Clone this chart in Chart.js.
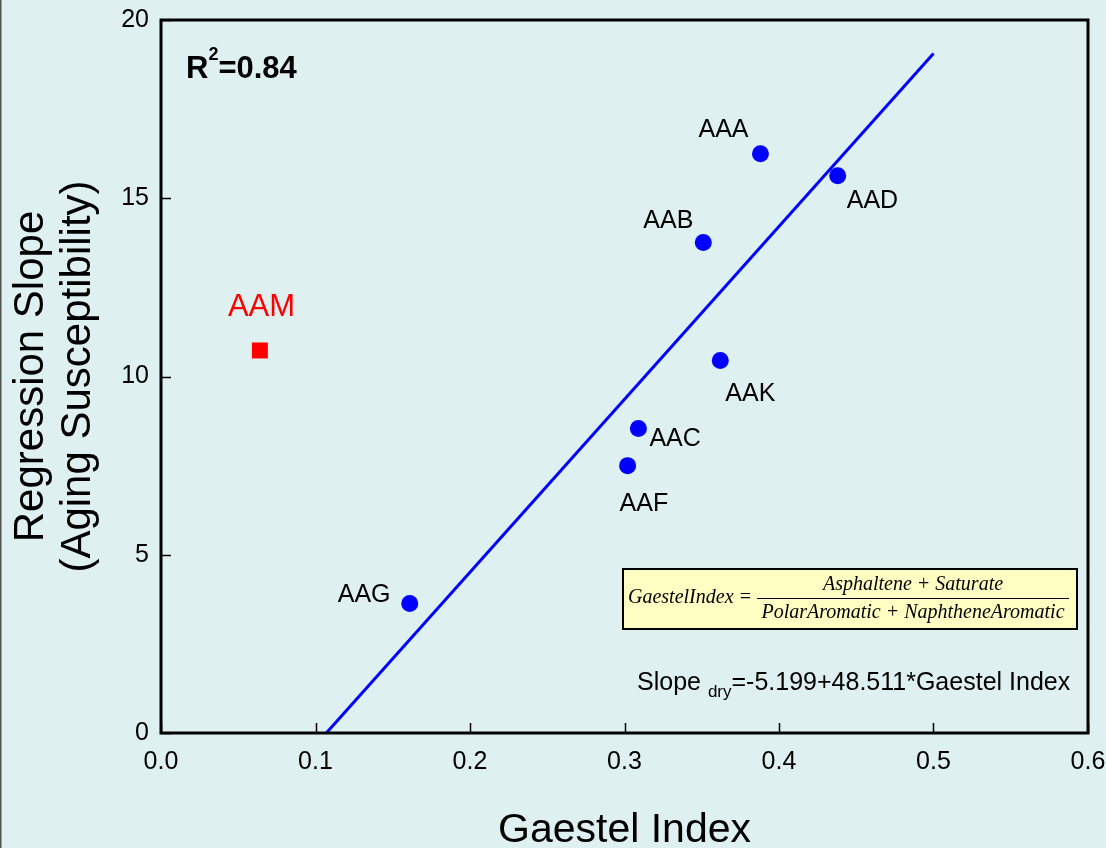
<!DOCTYPE html>
<html>
<head>
  <title>Gaestel Index vs Regression Slope</title>
  <script src="https://cdn.jsdelivr.net/npm/chart.js"></script>
  <style>
    body { margin: 0; background: #dff0f0; }
  </style>
</head>
<body>
  <canvas id="gaestelChart" width="1106" height="848"></canvas>

  <script>
    // asphalts used in the fit
    const asphaltNames = ['AAA', 'AAB', 'AAC', 'AAD', 'AAF', 'AAG', 'AAK'];
    const gaestelIndex = [0.388, 0.351, 0.309, 0.438, 0.302, 0.161, 0.362];
    const regressionSlope = [16.25, 13.76, 8.54, 15.63, 7.50, 3.63, 10.45];

    // outlier, left out of the fit
    const outlierNames = ['AAM'];
    const outlierIndex = [0.064];
    const outlierSlope = [10.73];

    // Slope_dry = -5.199 + 48.511 * Gaestel Index
    const fitX = [0.107, 0.5];
    const fitY = [0, 19.06];

    const FONT = '"Liberation Sans", Arial, sans-serif';
    const SERIF = '"Liberation Serif", "Times New Roman", serif';

    // label placement relative to the marker (left edge, baseline)
    const labelOffsets = {
      AAA: [-62, -17], AAB: [-60, -14], AAC: [11, 17], AAD: [9, 32],
      AAF: [-8, 45], AAG: [-72, -2], AAK: [5, 41], AAM: [-32, -34]
    };

    const toPoints = (xs, ys) => xs.map((x, i) => ({ x: x, y: ys[i] }));

    const decorPlugin = {
      id: 'decor',
      beforeDraw(chart) {
        const c = chart.ctx;
        c.save();
        c.fillStyle = '#dff0f0';
        c.fillRect(0, 0, chart.width, chart.height);
        c.fillStyle = '#555';
        c.fillRect(0, 0, 1.5, chart.height);
        c.restore();
      },
      afterDraw(chart) {
        const c = chart.ctx;
        const a = chart.chartArea;
        const xs = chart.scales.x, ys = chart.scales.y;
        c.save();

        // frame + inward ticks
        c.strokeStyle = '#000';
        c.lineWidth = 3;
        c.strokeRect(a.left, a.top, a.right - a.left, a.bottom - a.top);
        c.lineWidth = 1.5;
        c.beginPath();
        xs.ticks.forEach(t => {
          const px = Math.round(xs.getPixelForValue(t.value)) + 0.5;
          c.moveTo(px, a.bottom);
          c.lineTo(px, a.bottom - 10);
        });
        ys.ticks.forEach(t => {
          const py = Math.round(ys.getPixelForValue(t.value)) + 0.5;
          c.moveTo(a.left, py);
          c.lineTo(a.left + 10, py);
        });
        c.stroke();

        // point labels
        c.textAlign = 'left';
        c.textBaseline = 'alphabetic';
        c.font = '25px ' + FONT;
        c.fillStyle = '#000';
        asphaltNames.forEach((n, i) => {
          const o = labelOffsets[n];
          c.fillText(n, xs.getPixelForValue(gaestelIndex[i]) + o[0], ys.getPixelForValue(regressionSlope[i]) + o[1]);
        });
        c.font = '31px ' + FONT;
        c.fillStyle = '#ff0000';
        outlierNames.forEach((n, i) => {
          const o = labelOffsets[n];
          c.fillText(n, xs.getPixelForValue(outlierIndex[i]) + o[0], ys.getPixelForValue(outlierSlope[i]) + o[1]);
        });

        // R^2
        c.fillStyle = '#000';
        let x = a.left + 25;
        c.font = 'bold 31px ' + FONT;
        c.fillText('R', x, a.top + 58);
        x += c.measureText('R').width;
        c.font = 'bold 18px ' + FONT;
        c.fillText('2', x, a.top + 40);
        x += c.measureText('2').width;
        c.font = 'bold 31px ' + FONT;
        c.fillText('=0.84', x, a.top + 58);

        // formula box
        const bx = 623, by = 569, bw = 454, bh = 60;
        c.fillStyle = '#ffffc4';
        c.fillRect(bx, by, bw, bh);
        c.strokeStyle = '#000';
        c.lineWidth = 2;
        c.strokeRect(bx, by, bw, bh);
        c.fillStyle = '#000';
        c.font = 'italic 20px ' + SERIF;
        c.fillText('GaestelIndex =', bx + 5, by + 34);
        c.textAlign = 'center';
        const fx = 913;
        c.fillText('Asphaltene + Saturate', fx, by + 21);
        c.fillText('PolarAromatic + NaphtheneAromatic', fx, by + 49);
        c.lineWidth = 1;
        c.beginPath();
        c.moveTo(757, by + 29.5);
        c.lineTo(1069, by + 29.5);
        c.stroke();

        // fit equation
        c.textAlign = 'left';
        x = 637;
        c.font = '25px ' + FONT;
        c.fillText('Slope ', x, 690);
        x += c.measureText('Slope ').width;
        c.font = '17px ' + FONT;
        c.fillText('dry', x, 697);
        x += c.measureText('dry').width;
        c.font = '25px ' + FONT;
        c.fillText('=-5.199+48.511*Gaestel Index', x, 690);

        // axis titles
        c.textAlign = 'center';
        c.font = '41px ' + FONT;
        c.fillText('Gaestel Index', (a.left + a.right) / 2, 842);
        c.save();
        c.translate(0, (a.top + a.bottom) / 2);
        c.rotate(-Math.PI / 2);
        c.font = '42px ' + FONT;
        c.fillText('Regression Slope', 0, 43);
        c.fillText('(Aging Susceptibility)', 0, 90);
        c.restore();

        c.restore();
      }
    };

    const ctx = document.getElementById('gaestelChart').getContext('2d');
    const chart = new Chart(ctx, {
      type: 'scatter',
      data: {
        datasets: [
          {
            label: 'Fit',
            data: toPoints(fitX, fitY),
            showLine: true,
            borderColor: '#0000ff',
            borderWidth: 3,
            pointRadius: 0,
            fill: false
          },
          {
            label: 'Asphalts',
            data: toPoints(gaestelIndex, regressionSlope),
            pointStyle: 'circle',
            pointRadius: 8.5,
            backgroundColor: '#0000ff',
            borderColor: '#0000ff',
            borderWidth: 0
          },
          {
            label: 'AAM',
            data: toPoints(outlierIndex, outlierSlope),
            pointStyle: 'rect',
            pointRadius: 11.3,
            backgroundColor: '#ff0000',
            borderColor: '#ff0000',
            borderWidth: 0
          }
        ]
      },
      options: {
        responsive: false,
        animation: false,
        layout: { padding: { top: 20, right: 18, left: 0, bottom: 0 } },
        plugins: {
          legend: { display: false },
          tooltip: { enabled: false }
        },
        scales: {
          x: {
            type: 'linear',
            min: 0,
            max: 0.6,
            grid: { display: false, drawTicks: false },
            border: { display: false },
            ticks: {
              stepSize: 0.1,
              padding: 14,
              color: '#000',
              font: { size: 25, family: FONT },
              maxRotation: 0,
              callback: v => v.toFixed(1)
            },
            afterFit: s => {
              s.height = 115;
              s.paddingLeft = 0;
              s.paddingRight = 0;
            }
          },
          y: {
            type: 'linear',
            min: 0,
            max: 20,
            grid: { display: false, drawTicks: false },
            border: { display: false },
            ticks: {
              stepSize: 5,
              padding: 12,
              color: '#000',
              font: { size: 25, family: FONT }
            },
            afterFit: s => {
              s.width = 161;
              s.paddingTop = 0;
              s.paddingBottom = 0;
            }
          }
        }
      },
      plugins: [decorPlugin]
    });
  </script>
</body>
</html>
